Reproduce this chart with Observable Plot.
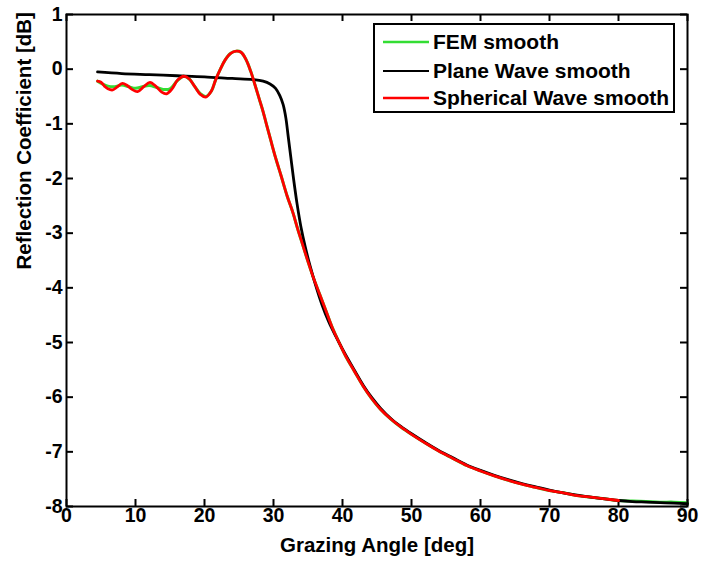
<!DOCTYPE html>
<html>
<head>
<meta charset="utf-8">
<script src="https://cdn.jsdelivr.net/npm/d3@7"></script>
<script src="https://cdn.jsdelivr.net/npm/@observablehq/plot@0.6"></script>
<style>
  html, body { margin: 0; padding: 0; background: white; }
  #wrap { position: relative; width: 701px; height: 563px; font-family: "Liberation Sans", Arial, sans-serif; font-weight: bold; }
  #legend { position: absolute; left: 373px; top: 23px; width: 298px; height: 86px; border: 2px solid black; background: white; }
  .row { position: absolute; left: 8px; height: 26px; display: flex; align-items: center; font-size: 21px; color: black; white-space: nowrap; }
  .row svg { margin-right: 4px; }
</style>
</head>
<body>
<div id="wrap"></div>
<script>
// ---- data ----
const xTicks = [0, 10, 20, 30, 40, 50, 60, 70, 80, 90];
const yTicks = [1, 0, -1, -2, -3, -4, -5, -6, -7, -8];

const seriesNames = ["FEM smooth", "Plane Wave smooth", "Spherical Wave smooth"];
const seriesColors = ["#33dd33", "#000000", "#ff0000"];

const femAngles = [4.5, 5.2, 6.0, 7.0, 8.0, 9.0, 10.0, 11.0, 12.0, 13.0, 14.0, 15.0, 16.0, 17.0, 17.8, 18.6, 19.4, 20.2, 21.0, 21.6, 22.3, 23.0, 23.8, 24.6, 25.3, 26.0, 26.7, 27.3, 27.9, 28.5, 29.0, 29.6, 30.3, 31.1, 32.0, 32.8, 33.5, 34.2, 35.0, 35.8, 36.7, 37.6, 38.5, 39.5, 40.5, 41.7, 43.0, 44.2, 45.5, 47, 48.5, 50, 52, 54, 56, 58, 60, 62, 64, 66, 68, 70, 72, 74, 76, 78, 80, 82, 84, 86, 88, 90];
const femValues = [-0.22, -0.27, -0.31, -0.32, -0.29, -0.32, -0.35, -0.32, -0.30, -0.33, -0.37, -0.36, -0.22, -0.13, -0.18, -0.32, -0.45, -0.50, -0.40, -0.20, 0.00, 0.17, 0.29, 0.33, 0.31, 0.18, -0.04, -0.28, -0.53, -0.78, -1.02, -1.30, -1.62, -1.95, -2.33, -2.62, -2.92, -3.20, -3.52, -3.82, -4.12, -4.42, -4.72, -5.00, -5.26, -5.52, -5.80, -6.02, -6.22, -6.40, -6.55, -6.68, -6.84, -6.99, -7.12, -7.25, -7.35, -7.44, -7.52, -7.59, -7.65, -7.71, -7.75, -7.80, -7.83, -7.86, -7.89, -7.90, -7.91, -7.92, -7.92, -7.93];

const planeAngles = [4.5, 8, 12, 16, 20, 24, 27, 28.5, 29.5, 30.3, 30.9, 31.4, 31.8, 32.1, 32.5, 32.9, 33.4, 34.0, 34.6, 35.3, 36.1, 37.0, 38.0, 39.0, 40.0, 41.7, 43.0, 44.2, 45.5, 47, 48.5, 50, 52, 54, 56, 58, 60, 62, 64, 66, 68, 70, 72, 74, 76, 78, 80, 82, 84, 86, 88, 90];
const planeValues = [-0.05, -0.08, -0.10, -0.12, -0.14, -0.17, -0.19, -0.22, -0.27, -0.35, -0.48, -0.65, -0.90, -1.20, -1.60, -2.00, -2.45, -2.90, -3.25, -3.60, -3.95, -4.30, -4.62, -4.88, -5.12, -5.50, -5.78, -6.00, -6.20, -6.39, -6.54, -6.67, -6.83, -6.98, -7.11, -7.24, -7.34, -7.43, -7.51, -7.58, -7.64, -7.70, -7.75, -7.79, -7.83, -7.86, -7.89, -7.91, -7.92, -7.93, -7.94, -7.95];

const sphAngles = [4.5, 5.0, 5.5, 6.0, 6.7, 7.3, 8.1, 8.8, 9.5, 10.3, 11.2, 12.1, 13.0, 13.8, 14.5, 15.3, 16.1, 17.0, 17.8, 18.6, 19.4, 20.2, 21.0, 21.6, 22.3, 23.0, 23.8, 24.6, 25.3, 26.0, 26.7, 27.3, 27.9, 28.5, 29.0, 29.6, 30.3, 31.1, 32.0, 32.8, 33.5, 34.2, 35.0, 35.8, 36.7, 37.6, 38.5, 39.5, 40.5, 41.7, 43.0, 44.2, 45.5, 47, 48.5, 50, 52, 54, 56, 58, 60, 62, 64, 66, 68, 70, 72, 74, 76, 78, 80];
const sphValues = [-0.22, -0.24, -0.31, -0.36, -0.38, -0.33, -0.26, -0.30, -0.37, -0.41, -0.32, -0.24, -0.32, -0.42, -0.45, -0.36, -0.20, -0.13, -0.18, -0.32, -0.46, -0.51, -0.40, -0.20, 0.00, 0.17, 0.29, 0.33, 0.31, 0.18, -0.04, -0.28, -0.53, -0.78, -1.02, -1.30, -1.62, -1.95, -2.33, -2.62, -2.92, -3.20, -3.52, -3.82, -4.12, -4.42, -4.72, -5.00, -5.26, -5.52, -5.80, -6.02, -6.22, -6.40, -6.55, -6.68, -6.84, -6.99, -7.12, -7.25, -7.35, -7.44, -7.52, -7.59, -7.65, -7.71, -7.75, -7.80, -7.83, -7.86, -7.89];

// ---- build tables ----
const toRows = (xs, ys) => xs.map((x, i) => ({x, y: ys[i]}));
const femRows = toRows(femAngles, femValues);
const planeRows = toRows(planeAngles, planeValues);
const sphRows = toRows(sphAngles, sphValues);

const W = 701, H = 563, mL = 66, mR = 14, mT = 14, mB = 57;
const pw = W - mL - mR, ph = H - mT - mB;
const tk = 7;
const font = "Liberation Sans, Arial, sans-serif";
const fmt = d => String(d);

const chart = Plot.plot({
  width: W, height: H,
  marginLeft: mL, marginRight: mR, marginTop: mT, marginBottom: mB,
  style: {fontFamily: font, fontWeight: "bold", fontSize: "19px", background: "white", color: "black", overflow: "visible"},
  x: {domain: [0, 90]},
  y: {domain: [-8, 1]},
  marks: [
    Plot.axisX(xTicks, {tickSize: 0, tickPadding: 2, tickFormat: fmt, label: null, fontSize: 19.5, fontWeight: "bold", fill: "black"}),
    Plot.axisY(yTicks, {tickSize: 0, tickPadding: 4, tickFormat: fmt, label: null, fontSize: 19.5, fontWeight: "bold", fill: "black"}),
    Plot.tickX(xTicks, {x: d => d, insetTop: ph - tk, stroke: "black", strokeWidth: 2}),
    Plot.tickX(xTicks, {x: d => d, insetBottom: ph - tk, stroke: "black", strokeWidth: 2}),
    Plot.tickY(yTicks, {y: d => d, insetRight: pw - tk, stroke: "black", strokeWidth: 2}),
    Plot.tickY(yTicks, {y: d => d, insetLeft: pw - tk, stroke: "black", strokeWidth: 2}),
    Plot.line(femRows, {x: "x", y: "y", stroke: seriesColors[0], strokeWidth: 3, curve: "catmull-rom"}),
    Plot.line(planeRows, {x: "x", y: "y", stroke: seriesColors[1], strokeWidth: 2.8, curve: "catmull-rom"}),
    Plot.line(sphRows, {x: "x", y: "y", stroke: seriesColors[2], strokeWidth: 2.8, curve: "catmull-rom"}),
    Plot.frame({stroke: "black", strokeWidth: 2}),
    Plot.text(["Grazing Angle [deg]"], {frameAnchor: "bottom", dy: 39, lineAnchor: "middle", fontSize: 20.5, fontWeight: "bold", fill: "black", fontFamily: font}),
    Plot.text(["Reflection Coefficient [dB]"], {frameAnchor: "left", dx: -42, dy: 9, rotate: -90, lineAnchor: "middle", fontSize: 20.5, fontWeight: "bold", fill: "black", fontFamily: font})
  ]
});

const wrap = document.getElementById("wrap");
wrap.appendChild(chart);

// legend
const legend = document.createElement("div");
legend.id = "legend";
const rowTops = [4, 33, 60];
seriesNames.forEach((name, i) => {
  const row = document.createElement("div");
  row.className = "row";
  row.style.top = rowTops[i] + "px";
  row.innerHTML = `<svg width="46" height="6"><line x1="0" y1="3" x2="46" y2="3" stroke="${seriesColors[i]}" stroke-width="${i === 1 ? 2 : 2.6}"/></svg><span>${name}</span>`;
  legend.appendChild(row);
});
wrap.appendChild(legend);
</script>
</body>
</html>
